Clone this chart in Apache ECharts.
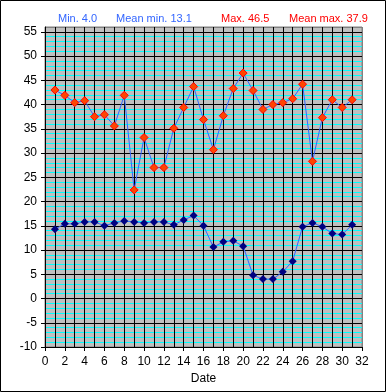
<!DOCTYPE html>
<html><head><meta charset="utf-8">
<script src="https://cdn.jsdelivr.net/npm/echarts@6/dist/echarts.min.js"></script>
<style>html,body{margin:0;padding:0;background:#fff}#c{width:386px;height:392px}</style>
</head><body><div id="c"></div>
<script>
const days = [1,2,3,4,5,6,7,8,9,10,11,12,13,14,15,16,17,18,19,20,21,22,23,24,25,26,27,28,29,30,31];
const maxTemps = [43.0,41.9,40.4,40.8,37.5,37.9,35.6,41.9,22.4,33.2,27.0,27.0,35.1,39.4,43.7,36.9,30.7,37.7,43.3,46.5,42.9,39.0,40.0,40.4,41.2,44.2,28.3,37.3,41.0,39.4,41.0];
const minTemps = [14.3,15.4,15.4,15.8,15.8,15.0,15.6,16.0,15.8,15.6,15.8,15.8,15.2,16.2,17.1,15.0,10.6,11.7,11.9,10.8,4.8,4.0,4.0,5.5,7.7,14.8,15.6,14.8,13.4,13.2,15.2];
const yTickLabels = [-10,-5,0,5,10,15,20,25,30,35,40,45,50,55];
const xTickLabels = [0,2,4,6,8,10,12,14,16,18,20,22,24,26,28,30,32];
const titles = ['Min. 4.0','Mean min. 13.1','Max. 46.5','Mean max. 37.9'];

const Y_MIN = -10, Y_MAX = 56, X_MIN = 0, X_MAX = 32;
const yLineColors = [];
for (let v = Y_MIN; v <= Y_MAX; v++) {
  yLineColors.push(v === Y_MAX ? '#808080' : (v % 5 === 0 ? '#000000' : '#00FFFF'));
}
const xLineColors = [];
for (let v = X_MIN; v <= X_MAX; v++) xLineColors.push(v === X_MAX ? '#808080' : '#000000');

const chart = echarts.init(document.getElementById('c'), null, {renderer:'canvas'});
const font = 'Liberation Sans, Arial, sans-serif';
chart.setOption({
  animation: false,
  backgroundColor: '#ffffff',
  title: [
    {text: titles[0], left: 53, top: 8, textStyle:{fontFamily:font,fontSize:11,fontWeight:'normal',color:'#3366FF'}},
    {text: titles[1], left: 111, top: 8, textStyle:{fontFamily:font,fontSize:11,fontWeight:'normal',color:'#3366FF'}},
    {text: titles[2], left: 216, top: 8, textStyle:{fontFamily:font,fontSize:11,fontWeight:'normal',color:'#FF0000'}},
    {text: titles[3], left: 284, top: 8, textStyle:{fontFamily:font,fontSize:11,fontWeight:'normal',color:'#FF0000'}}
  ],
  graphic: [{type:'rect', shape:{x:0.5,y:0.5,width:385,height:391}, style:{fill:'none',stroke:'#000',lineWidth:1}, z:100}],
  grid: {left:45, right:24, top:27, bottom:45, show:true, backgroundColor:'#C0C0C0', borderColor:'#808080', borderWidth:1},
  xAxis: [{
    type:'value', min:X_MIN, max:X_MAX, interval:1, position:'bottom',
    axisLine:{show:false}, axisTick:{show:false}, axisLabel:{show:false},
    splitLine:{show:true,lineStyle:{color:xLineColors,width:1}}
  },{
    type:'value', min:X_MIN, max:X_MAX, interval:2, position:'bottom',
    name:'Date', nameLocation:'middle', nameGap:26,
    nameTextStyle:{fontFamily:font,fontSize:12,color:'#000'},
    axisLine:{show:true,onZero:false,lineStyle:{color:'#000',width:1}},
    axisTick:{show:true,length:4,lineStyle:{color:'#000'}},
    axisLabel:{fontFamily:font,fontSize:12,color:'#000',margin:9},
    splitLine:{show:false}
  }],
  yAxis: [{
    type:'value', min:Y_MIN, max:Y_MAX, interval:1, position:'left',
    axisLine:{show:false}, axisTick:{show:false}, axisLabel:{show:false},
    splitLine:{show:true,lineStyle:{color:yLineColors,width:1}}
  },{
    type:'value', min:Y_MIN, max:Y_MAX, interval:1, position:'left',
    axisLine:{show:true,onZero:false,lineStyle:{color:'#000',width:1}},
    axisTick:{show:true,length:4,lineStyle:{color:'#000'},customValues:yTickLabels},
    axisLabel:{fontFamily:font,fontSize:12,color:'#000',margin:8,customValues:yTickLabels},
    splitLine:{show:false}
  }],
  series: [
    {type:'line', xAxisIndex:0, yAxisIndex:0, data: days.map((d,i)=>[d,maxTemps[i]]), symbol:'diamond', symbolSize:8,
     lineStyle:{color:'#3366FF',width:1}, itemStyle:{color:'#FF4500',borderColor:'#FF0000',borderWidth:1}, z:3},
    {type:'line', xAxisIndex:0, yAxisIndex:0, data: days.map((d,i)=>[d,minTemps[i]]), symbol:'diamond', symbolSize:8,
     lineStyle:{color:'#3366FF',width:1}, itemStyle:{color:'#000080',borderColor:'#000080',borderWidth:0}, z:3}
  ]
});
</script></body></html>
